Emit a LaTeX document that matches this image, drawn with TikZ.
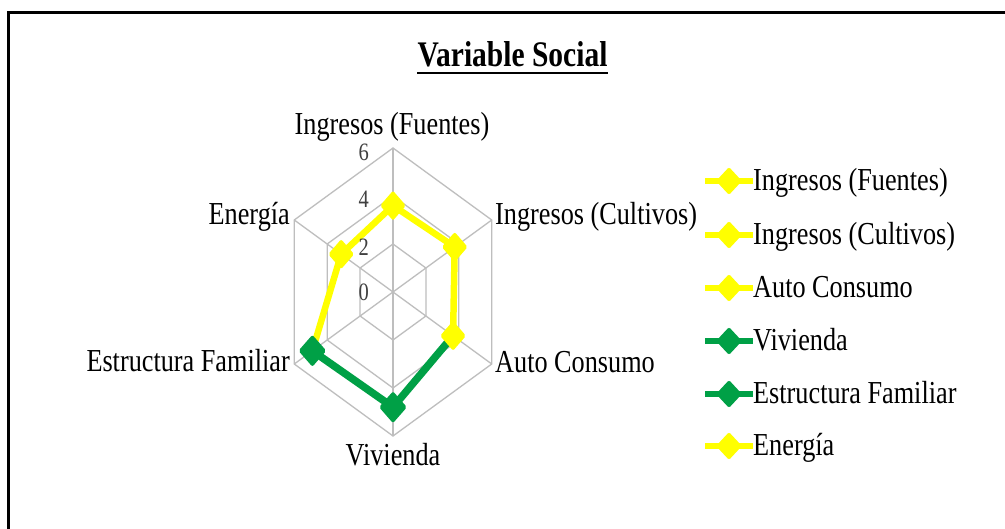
\documentclass[tikz,border=0pt]{standalone}
\usepackage{fontspec}
\setmainfont{Liberation Serif}[FakeStretch=0.82]
\usetikzlibrary{shapes.geometric,calc}
\definecolor{ylw}{RGB}{255,255,0}
\definecolor{grn}{RGB}{0,160,70}
\definecolor{gridc}{RGB}{190,190,190}
\definecolor{numc}{RGB}{64,64,64}
\begin{document}
\begin{tikzpicture}[x=1pt,y=-1pt,
  lab/.style={font=\fontsize{32}{36}\selectfont, inner sep=0pt},
  num/.style={font=\fontsize{25}{28}\selectfont, text=numc, inner sep=0pt},
  gridline/.style={draw=gridc, line width=1.3pt},
  yline/.style={draw=ylw, line width=6.5pt, line join=round},
  gline/.style={draw=grn, line width=7.5pt, line join=round},
  ymk/.style={diamond, fill=ylw, rounded corners=2pt, minimum width=26pt, minimum height=30pt, inner sep=0pt},
  gmk/.style={diamond, fill=grn, rounded corners=2pt, minimum width=28pt, minimum height=32pt, inner sep=0pt},
  ylegline/.style={draw=ylw, line width=6.5pt},
  glegline/.style={draw=grn, line width=6.5pt},
  ylegmk/.style={diamond, fill=ylw, rounded corners=2pt, minimum width=26pt, minimum height=28pt, inner sep=0pt},
  glegmk/.style={diamond, fill=grn, rounded corners=2pt, minimum width=26pt, minimum height=28pt, inner sep=0pt},
  border/.style={draw=black, line width=3.5pt},
]
\useasboundingbox (0,0) rectangle (1005,529);
\fill[white] (0,0) rectangle (1005,529);

% frame
\coordinate (b1) at (8.5,529);
\coordinate (b2) at (8.5,12.5);
\coordinate (b3) at (1005,12.5);
\draw[border] (b1) -- (b2) -- (b3);

% title
\node[font=\bfseries\fontsize{36}{40}\selectfont, inner sep=0pt, anchor=base] (title) at (512.5,67) {Variable Social};
\draw[line width=2.5pt] ($(title.base west)+(0,6)$) -- ($(title.base east)+(0,6)$);

% radar chart
\coordinate (C) at (393,292);
\begin{scope}[shift={(C)}, x=19pt, y=24pt]
  \foreach \r in {2,4,6}
    \draw[gridline] (90:\r) -- (30:\r) -- (-30:\r) -- (-90:\r) -- (-150:\r) -- (150:\r) -- cycle;
  \foreach \a in {90,30,-30,-90,-150,150}
    \draw[gridline] (0,0) -- (\a:6);
  \coordinate (p1) at (90:3.6);
  \coordinate (p2) at (30:3.75);
  \coordinate (p3) at (-30:3.65);
  \coordinate (p4) at (-90:4.8);
  \coordinate (p5) at (-150:4.9);
  \coordinate (p6) at (150:3.15);
\end{scope}

\draw[yline] (p5) -- (p6) -- (p1) -- (p2) -- (p3);
\draw[gline] (p3) -- (p4) -- (p5);

\node[ymk] (m1) at (p1) {};
\node[ymk] (m2) at (p2) {};
\node[ymk] (m3) at (p3) {};
\node[gmk] (m4) at (p4) {};
\node[gmk] (m5) at (p5) {};
\node[ymk] (m6) at (p6) {};

% axis numbers
\node[num, anchor=base east] (n6) at (369,161) {6};
\node[num, anchor=base east] (n4) at (369,208) {4};
\node[num, anchor=base east] (n2) at (369,256) {2};
\node[num, anchor=base east] (n0) at (369,301) {0};

% category labels
\node[lab, anchor=base] (c1) at (392,135) {Ingresos (Fuentes)};
\node[lab, anchor=base west] (c2) at (495,225) {Ingresos (Cultivos)};
\node[lab, anchor=base west] (c3) at (495,373) {Auto Consumo};
\node[lab, anchor=base] (c4) at (393,466) {Vivienda};
\node[lab, anchor=base east] (c5) at (290,372) {Estructura Familiar};
\node[lab, anchor=base east] (c6) at (290,225) {Energía};

% legend
\coordinate (la1) at (705,181); \coordinate (lb1) at (753,181);
\coordinate (la2) at (705,235); \coordinate (lb2) at (753,235);
\coordinate (la3) at (705,288); \coordinate (lb3) at (753,288);
\coordinate (la4) at (705,341); \coordinate (lb4) at (753,341);
\coordinate (la5) at (705,394); \coordinate (lb5) at (753,394);
\coordinate (la6) at (705,446); \coordinate (lb6) at (753,446);
\draw[ylegline] (la1) -- (lb1);
\draw[ylegline] (la2) -- (lb2);
\draw[ylegline] (la3) -- (lb3);
\draw[glegline] (la4) -- (lb4);
\draw[glegline] (la5) -- (lb5);
\draw[ylegline] (la6) -- (lb6);
\node[ylegmk] (lm1) at ($(la1)!0.5!(lb1)$) {};
\node[ylegmk] (lm2) at ($(la2)!0.5!(lb2)$) {};
\node[ylegmk] (lm3) at ($(la3)!0.5!(lb3)$) {};
\node[glegmk] (lm4) at ($(la4)!0.5!(lb4)$) {};
\node[glegmk] (lm5) at ($(la5)!0.5!(lb5)$) {};
\node[ylegmk] (lm6) at ($(la6)!0.5!(lb6)$) {};
\node[lab, anchor=base west] (lt1) at (753,191) {Ingresos (Fuentes)};
\node[lab, anchor=base west] (lt2) at (753,245) {Ingresos (Cultivos)};
\node[lab, anchor=base west] (lt3) at (753,298) {Auto Consumo};
\node[lab, anchor=base west] (lt4) at (753,351) {Vivienda};
\node[lab, anchor=base west] (lt5) at (753,404) {Estructura Familiar};
\node[lab, anchor=base west] (lt6) at (753,456) {Energía};
\end{tikzpicture}
\end{document}
